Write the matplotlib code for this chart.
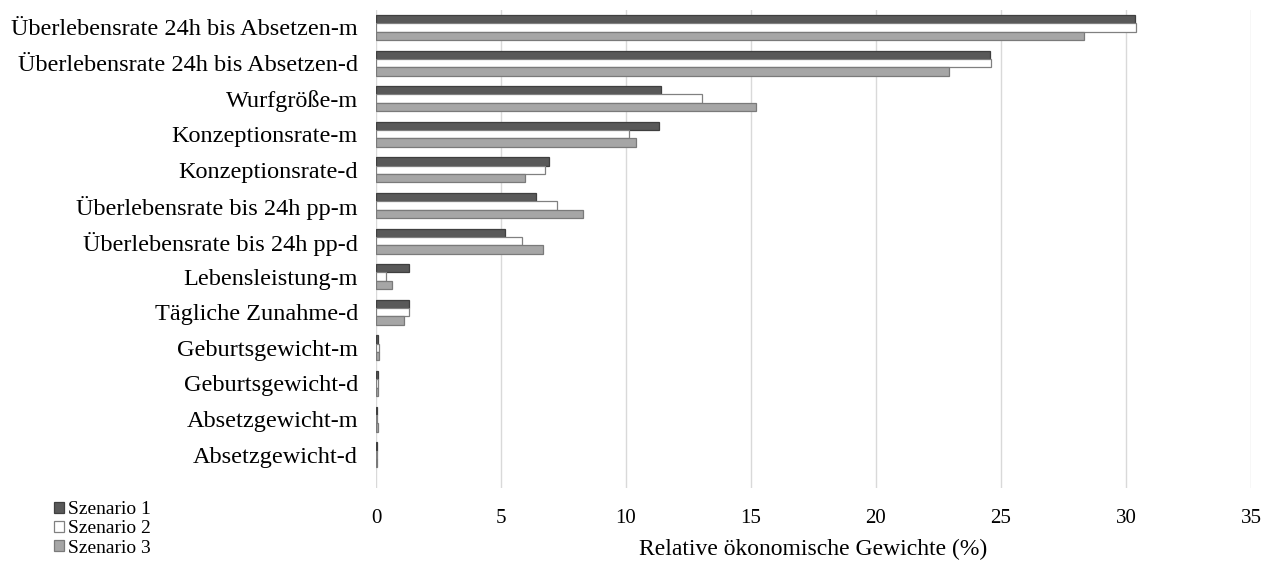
import matplotlib
matplotlib.use("Agg")
import matplotlib.pyplot as plt
import numpy as np
from matplotlib.patches import Patch

categories = [
    "Überlebensrate 24h bis Absetzen-m",
    "Überlebensrate 24h bis Absetzen-d",
    "Wurfgröße-m",
    "Konzeptionsrate-m",
    "Konzeptionsrate-d",
    "Überlebensrate bis 24h pp-m",
    "Überlebensrate bis 24h pp-d",
    "Lebensleistung-m",
    "Tägliche Zunahme-d",
    "Geburtsgewicht-m",
    "Geburtsgewicht-d",
    "Absetzgewicht-m",
    "Absetzgewicht-d",
]
szenario1 = [30.35, 24.55, 11.4, 11.33, 6.92, 6.4, 5.17, 1.33, 1.33, 0.08, 0.07, 0.05, 0.04]
szenario2 = [30.4, 24.6, 13.05, 10.1, 6.75, 7.23, 5.85, 0.4, 1.3, 0.1, 0.08, 0.05, 0.04]
szenario3 = [28.3, 22.9, 15.2, 10.4, 5.95, 8.27, 6.68, 0.63, 1.13, 0.1, 0.08, 0.06, 0.05]
series_labels = ["Szenario 1", "Szenario 2", "Szenario 3"]
xticks = [0, 5, 10, 15, 20, 25, 30, 35]

plt.rcParams['font.family'] = ['Liberation Serif', 'DejaVu Serif']

fig = plt.figure(figsize=(12.74, 5.63), dpi=100)
ax = fig.add_axes([376/1274, 1-488/563, (1251-376)/1274, (488-10)/563])

y = np.arange(len(categories))
h = 0.235
styles = [
    dict(color="#595959", edgecolor="#3f3f3f"),
    dict(color="#ffffff", edgecolor="#808080"),
    dict(color="#a6a6a6", edgecolor="#7a7a7a"),
]
for k, vals in enumerate([szenario1, szenario2, szenario3]):
    ax.barh(y + (k - 1) * h, vals, height=h, linewidth=0.9, zorder=3,
            label=series_labels[k], **styles[k])

ax.set_xlim(0, 35)
ax.set_ylim(len(categories) - 1 + 0.935, -0.49)
ax.set_xticks(xticks)
ax.set_yticks(y)
ax.set_yticklabels(categories, fontsize=17.5)
ax.tick_params(axis='both', length=0)
ax.tick_params(axis='x', labelsize=15, pad=15)
ax.tick_params(axis='y', pad=13)
ax.xaxis.grid(True, color="#d9d9d9", linewidth=1, zorder=0)
for s in ax.spines.values():
    s.set_visible(False)
ax.set_xlabel("Relative ökonomische Gewichte (%)", fontsize=17, labelpad=8)

handles = [Patch(facecolor=st["color"], edgecolor=st["edgecolor"], linewidth=0.9) for st in styles]
fig.legend(handles, series_labels, loc="upper left", bbox_to_anchor=(54/1274, 1-501/563),
           frameon=False, fontsize=14, handlelength=0.5, handleheight=0.5,
           handletextpad=0.2, labelspacing=0.12, borderpad=0, borderaxespad=0)

fig.savefig("out.png", dpi=100)
